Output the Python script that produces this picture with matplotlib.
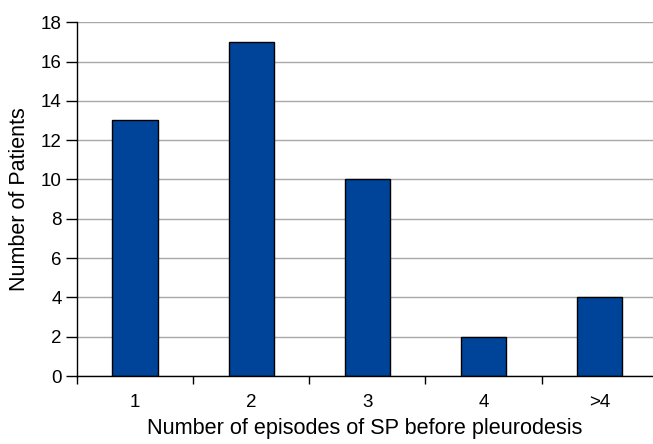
import numpy as np
import matplotlib
matplotlib.use("Agg")
import matplotlib.pyplot as plt

# episodes of SP before pleurodesis vs number of patients
categories = ["1", "2", "3", "4", ">4"]
patients = [13, 17, 10, 2, 4]

plt.rcParams['font.family'] = ['Liberation Sans', 'DejaVu Sans']

fig = plt.figure(figsize=(6.53, 4.44), dpi=100)
ax = fig.add_axes([0.118, 0.153, 0.882, 0.797])

x = np.arange(len(categories))
ax.bar(x, patients, width=0.39, color='#00449a', edgecolor='black', linewidth=1.0, zorder=3)

ax.set_ylim(0, 18)
ax.set_yticks(np.arange(0, 19, 2))
ax.set_xlim(-0.5, 4.46)
ax.set_xticks(x)
ax.set_xticklabels(categories)
ax.set_xticks(np.arange(-0.5, 4.5, 1.0), minor=True)
ax.tick_params(axis='x', which='major', length=0, pad=13, labelsize=13.5)
ax.tick_params(axis='x', which='minor', length=6, width=1, direction='out')
ax.tick_params(axis='y', length=8, width=1, labelsize=13.5, pad=3)

ax.yaxis.grid(True, color='#a8a8a8', linewidth=1, zorder=0)
ax.spines['top'].set_visible(False)
ax.spines['right'].set_visible(False)
for s in ['left', 'bottom']:
    ax.spines[s].set_linewidth(1)
    ax.spines[s].set_zorder(4)

ax.set_xlabel("Number of episodes of SP before pleurodesis", fontsize=15.6, labelpad=5)
ax.set_ylabel("Number of Patients", fontsize=15.5, labelpad=8)

fig.savefig("out.png", dpi=100)
